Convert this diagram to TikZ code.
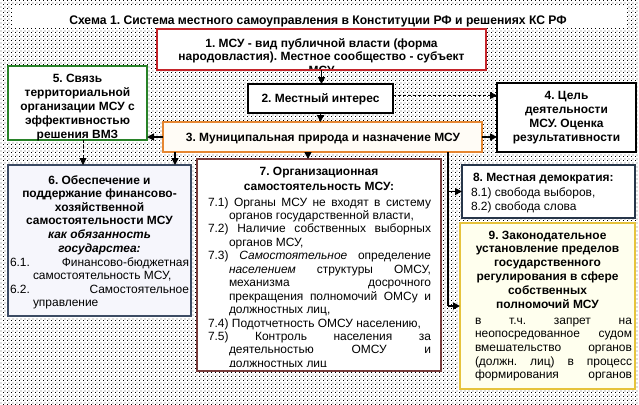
\documentclass[tikz,border=0pt]{standalone}
\usepackage{fontspec}
\usepackage{graphicx}
\setmainfont{Liberation Sans}
\usetikzlibrary{arrows.meta,patterns.meta}
\definecolor{cRed}{RGB}{196,36,42}
\definecolor{cOrange}{RGB}{230,135,50}
\definecolor{cGreen}{RGB}{40,130,40}
\definecolor{cSlate}{RGB}{60,75,100}
\definecolor{cBrown}{RGB}{120,60,60}
\definecolor{cNavy}{RGB}{40,55,75}
\definecolor{cGold}{RGB}{230,195,60}
\definecolor{fLav}{RGB}{246,246,252}
\definecolor{fYel}{RGB}{255,255,238}
\definecolor{fPeach}{RGB}{255,252,246}
\pgfdeclarepattern{
  name=stipple,
  type=uncolored,
  bottom left={\pgfpoint{0bp}{0bp}},
  top right={\pgfpoint{4bp}{4bp}},
  tile size={\pgfpoint{4bp}{4bp}},
  code={
    \pgfpathrectangle{\pgfpoint{0bp}{0bp}}{\pgfpoint{1.1bp}{1.1bp}}
    \pgfpathrectangle{\pgfpoint{2bp}{2bp}}{\pgfpoint{1.1bp}{1.1bp}}
    \pgfusepath{fill}
  }
}
\frenchspacing
\newcommand\jpar{\tolerance=10000 \pretolerance=-1 \hyphenpenalty=10000 \exhyphenpenalty=10000 \parindent=0pt }
\newcommand\hpar[1]{\hangindent=#1\hangafter=1 }
\begin{document}
\begin{tikzpicture}[x=1bp,y=-1bp,
  box/.style={draw, rectangle, line width=2pt, fill=white, inner sep=0pt, outer sep=0pt},
  arr/.style={line width=1.6pt, -{Triangle[length=7bp,width=7bp]}},
  darr/.style={line width=0.8pt, dash pattern=on 3bp off 2bp, -{Triangle[length=7bp,width=7bp]}},
  trunk/.style={line width=1.6pt},
  txt/.style={inner sep=0pt, outer sep=0pt, anchor=base},
  bf/.style={font=\bfseries\fontsize{12}{14}\selectfont},
  rg/.style={font=\fontsize{12}{13.5}\selectfont}]
\useasboundingbox (0,0) rectangle (639,404);
\fill[white] (0,0) rectangle (639,404);
\fill[pattern=stipple, pattern color=black] (0,0) rectangle (639,404);
\fill[white] (12,5) rectangle (626,28);
\node[txt, font=\bfseries\fontsize{12.5}{14}\selectfont] (t0) at (318,24) {\scalebox{0.975}[1]{Схема 1. Система местного самоуправления в Конституции РФ и решениях КС РФ}};

% boxes
\node[box, draw=cRed, line width=2.5pt, minimum width=329bp, minimum height=41bp] (b1) at (321.5,49.5) {};
\node[box, draw=black, minimum width=145bp, minimum height=29bp] (b2) at (320.5,98.5) {};
\node[box, draw=cOrange, fill=fPeach, line width=2.5pt, minimum width=319bp, minimum height=30bp] (b3) at (322.5,137) {};
\node[box, draw=black, minimum width=139bp, minimum height=69bp] (b4) at (566.5,117.5) {};
\node[box, draw=cGreen, minimum width=139bp, minimum height=74bp] (b5) at (77.5,103) {};
\node[box, draw=cSlate, fill=fLav, minimum width=183bp, minimum height=151bp] (b6) at (99.5,240.5) {};
\node[box, draw=cBrown, minimum width=244bp, minimum height=212bp] (b7) at (319,265) {};
\node[box, draw=cNavy, minimum width=173bp, minimum height=53bp] (b8) at (548.5,191.5) {};
\node[box, draw=cGold, fill=fYel, minimum width=175bp, minimum height=166bp] (b9) at (547.5,306) {};

% texts
\begin{scope}
\clip (159,31) rectangle (484,68);
\node[txt, bf] (t1) at (321.5,47) {\parbox[t]{325bp}{\centering 1. МСУ - вид публичной власти (форма\\народовластия). Местное сообщество - субъект\\МСУ}};
\end{scope}
\node[txt, bf] (t2) at (320.5,102.5) {2. Местный интерес};
\node[txt, bf] (t3) at (323,141) {3. Муниципальная природа и назначение МСУ};
\node[txt, bf] (t4) at (566.5,99.5) {\parbox[t]{135bp}{\centering 4. Цель\\деятельности\\МСУ. Оценка\\результативности}};
\node[txt, font=\bfseries\fontsize{12}{14.3}\selectfont] (t5) at (77.5,82) {\parbox[t]{135bp}{\centering 5. Связь\\территориальной\\организации МСУ с\\эффективностью\\решения ВМЗ}};
\node[txt, font=\bfseries\fontsize{12}{13.7}\selectfont] (t6a) at (99.5,184) {\parbox[t]{179bp}{\centering 6. Обеспечение и\\поддержание финансово-\\хозяйственной\\самостоятельности МСУ\\\itshape как обязанность\\государстеа:}};
\node[txt, anchor=base west, font=\fontsize{12}{13.7}\selectfont] (t6b) at (10,266) {\parbox[t]{179bp}{\jpar
\hpar{23bp}6.1.\hfill Финансово-бюджетная\linebreak самостоятельность МСУ,\par
\hpar{23bp}6.2.\hfill Самостоятельное\linebreak управление\par}};
\node[txt, font=\bfseries\fontsize{12}{15.5}\selectfont] (t7a) at (319,175) {\parbox[t]{240bp}{\centering 7. Организационная\\самостоятельность МСУ:}};
\begin{scope}
\clip (199,161) rectangle (439,366.5);
\node[txt, rg, anchor=base west] (t7b) at (208,206) {\parbox[t]{223bp}{\jpar
\hpar{21bp}7.1) Органы МСУ не входят в систему\linebreak органов государственной власти,\par
\hpar{21bp}7.2) Наличие собственных выборных\linebreak органов МСУ,\par
\hpar{21bp}7.3) \textit{Самостоятельное} определение\linebreak \textit{населением} структуры ОМСУ,\linebreak механизма досрочного\linebreak прекращения полномочий ОМСу и\linebreak должностных лиц,\par
\hpar{21bp}7.4) Подотчетность ОМСУ населению,\par
\hpar{21bp}7.5) Контроль населения за\linebreak деятельностью ОМСУ и\linebreak должностных лиц\par}};
\end{scope}
\node[txt, bf, anchor=base west] (t8a) at (473,181) {8. Местная демократия:};
\node[txt, anchor=base west, font=\fontsize{12}{15}\selectfont] (t8b) at (471,196) {\parbox[t]{160bp}{\jpar 8.1) свобода выборов,\par 8.2) свобода слова\par}};
\node[txt, bf] (t9a) at (547.5,239) {\parbox[t]{171bp}{\centering 9. Законодательное\\установление пределов\\государственного\\регулирования в сфере\\собственных\\полномочий МСУ}};
\node[txt, anchor=base west, font=\fontsize{12}{13.75}\selectfont] (t9b) at (475,324) {\parbox[t]{157bp}{\jpar\parfillskip=0pt
в т.ч. запрет на\linebreak неопосредованное судом\linebreak вмешательство органов\linebreak (должн. лиц) в процесс\linebreak формирования органов\par}};

% connectors
\coordinate (tx) at (448,0);
\coordinate (sx) at (175,0);
\coordinate (dx) at (83,0);
\coordinate (mx) at (308,0);
\draw[arr] (b1.south) -- (b1.south |- b2.north);
\draw[arr] (b2.south) -- (b2.south |- b3.north);
\draw[darr] ([yshift=3bp]b2.east) -- ([yshift=3bp]b2.east -| b4.west);
\draw[arr] (b3.east) -- (b3.east -| b4.west);
\draw[arr] (b3.west) -- (b3.west -| b5.east);
\draw[darr] (b5.south -| dx) -- (b6.north -| dx);
\draw[arr] (b3.south -| sx) -- (b6.north -| sx);
\draw[arr] (b3.south -| mx) -- (b7.north -| mx);
\draw[trunk] (b3.south -| tx) -- (b9.west -| tx);
\draw[arr] (b8.west -| tx) -- (b8.west);
\draw[arr] (b9.west -| tx) -- (b9.west);
\end{tikzpicture}
\end{document}
